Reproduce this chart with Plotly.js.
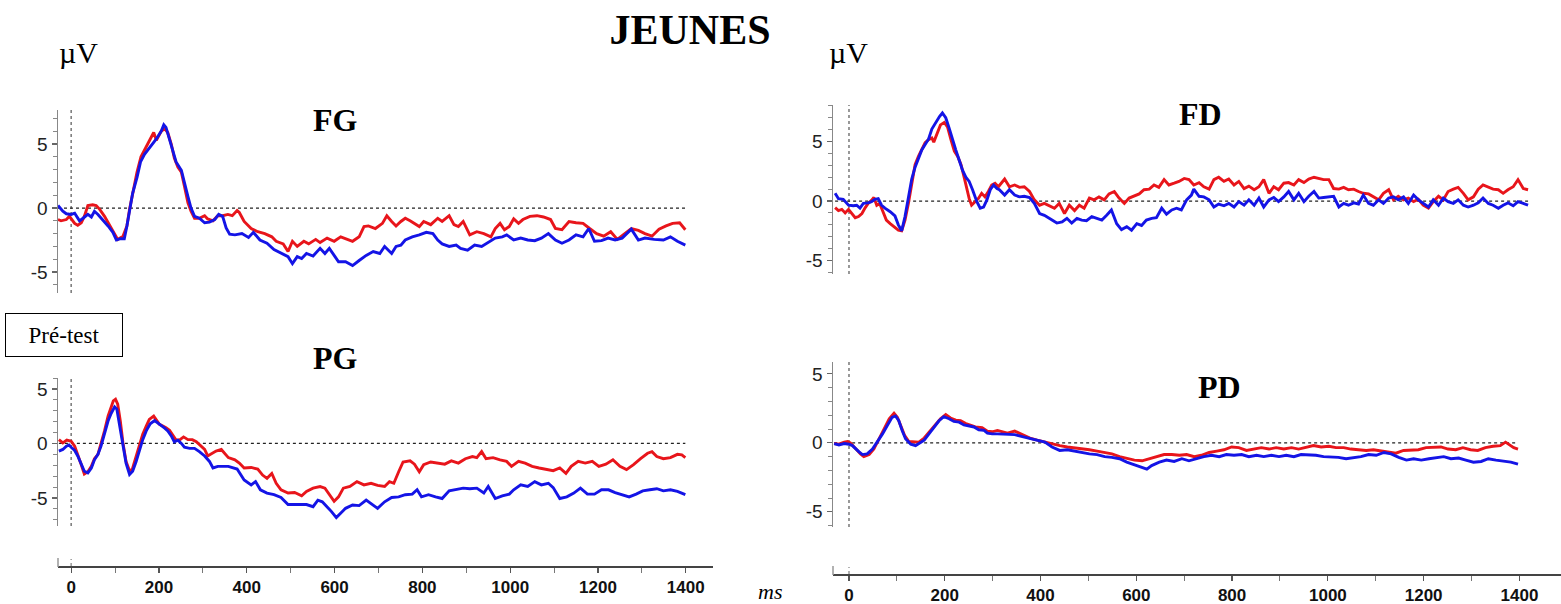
<!DOCTYPE html>
<html><head><meta charset="utf-8">
<script src="https://cdn.plot.ly/plotly-3.0.1.min.js"></script>
<style>html,body{margin:0;padding:0;background:#fff;}#chart{width:1561px;height:604px;}</style>
</head><body><div id="chart"></div>
<script>
// ---------- DATA (ms, µV) ----------
const fgRedT = [-30,-23,-11,-4,8,15,23,30,38,49,57,65,76,87,99,106,118,127,133,142,150,159,171,182,188,194,205,213,220,228,235,243,251,258,266,273,281,292,304,311,323,334,345,357,367,378,383,394,410,425,441,457,467,483,494,504,515,530,541,557,567,583,599,614,630,641,656,667,677,693,709,719,730,740,751,761,772,782,793,803,819,835,845,861,872,882,893,908,924,940,956,966,977,987,998,1008,1019,1029,1045,1061,1076,1092,1103,1118,1134,1150,1166,1181,1197,1213,1229,1244,1260,1276,1292,1307,1323,1339,1355,1370,1386,1399];
const fgRedV = [-0.9,-1.0,-0.9,-0.65,-1.2,-1.35,-1.15,-0.65,0.2,0.25,0.2,-0.1,-0.65,-1.3,-2.05,-2.45,-2.2,-1.4,-0.1,1.4,2.8,4.0,4.8,5.6,5.9,5.3,6.0,6.2,5.9,5.0,3.9,3.2,2.8,1.7,0.4,-0.25,-0.8,-0.8,-0.6,-0.85,-1.0,-0.6,-0.6,-0.5,-0.6,-0.2,-0.35,-1.05,-1.6,-1.85,-2.0,-2.25,-2.6,-2.8,-3.4,-2.6,-3.0,-2.6,-2.8,-2.45,-2.7,-2.35,-2.6,-2.25,-2.45,-2.6,-2.25,-1.45,-1.4,-1.6,-1.2,-0.6,-1.05,-1.4,-1.05,-0.8,-1.0,-1.2,-1.45,-1.05,-1.3,-0.8,-1.05,-0.6,-1.3,-1.45,-1.05,-2.1,-1.85,-2.0,-2.25,-1.6,-1.2,-1.7,-1.45,-0.85,-1.2,-0.9,-0.65,-0.6,-0.7,-0.9,-1.6,-1.7,-1.05,-1.15,-1.2,-1.6,-2.0,-2.2,-1.85,-2.45,-2.0,-1.6,-1.75,-2.0,-2.2,-1.65,-1.4,-1.2,-1.15,-1.7];
const fgBlueT = [-30,-19,-11,0,8,15,19,27,38,46,53,61,72,84,95,103,112,121,127,133,140,150,158,167,178,194,205,211,216,224,232,239,251,258,266,273,281,292,304,315,327,336,345,353,361,373,389,404,415,430,446,462,478,494,504,515,525,536,551,567,578,588,599,609,625,641,656,672,688,703,714,730,740,751,761,777,793,809,824,835,845,861,877,887,903,919,935,950,966,982,992,1008,1024,1040,1056,1071,1087,1103,1118,1134,1150,1166,1179,1192,1208,1223,1239,1255,1276,1292,1307,1328,1349,1365,1381,1399];
const fgBlueV = [0.2,-0.25,-0.45,-0.5,-0.4,-0.8,-1.0,-0.8,-0.5,-0.7,-0.25,-0.5,-0.9,-1.4,-1.9,-2.5,-2.4,-2.4,-1.4,-0.1,1.15,2.4,3.6,4.2,4.7,5.4,6.0,6.5,6.3,5.4,4.5,3.6,2.95,1.9,0.9,0,-0.65,-0.8,-1.15,-1.1,-0.9,-0.5,-0.65,-1.55,-2.05,-2.1,-2.0,-2.3,-1.9,-2.5,-2.75,-3.25,-3.55,-3.8,-4.35,-3.8,-3.95,-3.55,-3.75,-3.15,-3.55,-3.15,-3.7,-4.2,-4.2,-4.5,-4.1,-3.7,-3.4,-3.55,-3.0,-3.55,-3.0,-2.9,-2.5,-2.25,-2.1,-1.9,-2.0,-2.5,-2.8,-3.0,-2.9,-3.15,-3.3,-2.9,-3.0,-2.7,-2.35,-2.25,-2.1,-2.5,-2.35,-2.5,-2.55,-2.35,-2.0,-2.5,-2.75,-2.5,-2.1,-2.25,-1.6,-2.6,-2.55,-2.35,-2.5,-2.35,-1.65,-2.5,-2.35,-2.45,-2.5,-2.25,-2.6,-2.9];

const fdRedT = [-29,-22,-15,-8,-1,6,13,20,27,34,40,47,52,58,64,71,78,86,96,103,110,117,124,131,138,145,152,159,166,173,177,184,191,199,206,213,220,227,234,241,246,251,256,263,270,277,284,291,298,305,312,325,335,346,356,366,377,387,398,408,418,429,439,450,460,471,481,491,502,512,522,533,543,554,564,575,585,595,606,616,627,637,647,658,668,679,689,700,710,720,731,741,752,762,772,783,793,804,814,825,835,846,856,866,877,887,897,908,918,929,939,950,960,971,981,991,1002,1012,1023,1033,1043,1054,1064,1074,1085,1095,1106,1116,1127,1137,1147,1158,1168,1179,1189,1199,1210,1220,1231,1241,1251,1262,1272,1283,1293,1304,1314,1324,1335,1345,1356,1366,1376,1387,1397,1408,1418];
const fdRedV = [-0.55,-0.8,-0.7,-1.0,-0.7,-1.1,-1.4,-1.3,-1.05,-0.55,-0.2,0.05,0.3,-0.35,-0.2,-0.9,-1.6,-1.9,-2.25,-2.45,-2.5,-1.6,-0.2,1.5,3.05,3.75,4.3,4.9,5.15,5.3,4.95,5.7,6.4,6.6,6.2,5.15,4.2,3.75,3.05,1.9,0.95,0.2,-0.35,-0.05,0.2,0.65,0.35,0.8,1.35,1.5,1.2,1.85,1.2,1.35,1.15,1.2,0.8,0.1,-0.35,-0.2,-0.4,-0.6,-0.2,-1.05,-0.35,-0.8,-0.35,-0.6,0.25,0.1,0.35,0.1,0.6,0.8,0.25,-0.2,0.25,0.4,0.6,0.95,1.0,1.35,1.15,1.8,1.35,1.5,1.65,1.9,1.8,1.35,1.55,1.2,1.0,1.8,2.0,1.65,1.85,1.35,1.65,1.05,1.25,0.95,1.2,1.8,0.65,1.2,0.95,1.5,1.55,1.35,1.8,1.55,1.85,2.0,1.9,1.8,1.8,1.05,1.0,1.15,0.95,1.0,0.8,0.65,0.6,0.35,0.1,0.65,0.95,0.1,0.4,0.1,0.25,-0.05,0.15,-0.35,-0.6,-0.05,0.4,0.1,0.8,1.0,1.15,0.65,0.1,0.35,1.0,1.35,1.2,1.0,0.95,0.65,0.95,1.2,1.8,1.05,0.95];
const fdBlueT = [-29,-22,-12,-1,9,16,23,30,40,47,54,61,68,75,86,96,103,110,117,124,131,138,145,152,159,166,173,180,189,195,202,209,216,223,230,237,244,251,258,267,274,281,288,295,302,309,314,325,335,346,356,366,377,387,398,408,424,434,445,455,465,476,486,496,507,517,528,538,548,559,569,580,590,601,611,621,632,642,653,663,674,684,694,705,715,720,731,741,752,762,772,783,793,804,814,825,835,846,856,866,877,887,897,908,918,929,939,950,960,971,981,991,1002,1012,1023,1033,1043,1054,1064,1074,1085,1095,1106,1116,1127,1137,1147,1158,1168,1179,1189,1199,1210,1220,1231,1241,1251,1262,1272,1283,1293,1304,1314,1324,1335,1345,1356,1366,1376,1387,1397,1408,1418];
const fdBlueV = [0.65,0.2,0.15,-0.35,-0.4,-0.35,-0.6,-0.2,-0.15,-0.05,0.15,0.2,-0.35,-0.6,-0.9,-1.25,-2.0,-2.5,-1.3,0.35,1.85,2.85,3.6,4.3,4.75,5.2,6.05,6.55,7.1,7.4,7.0,6.15,5.15,4.3,3.45,2.6,2.0,1.65,0.95,-0.05,-0.6,-0.5,0.1,0.95,1.35,1.05,0.95,0.5,0.95,0.5,0.35,0.4,0.3,-0.2,-1.05,-1.2,-1.6,-1.85,-1.75,-1.45,-1.85,-1.45,-1.6,-1.65,-1.3,-1.45,-1.6,-1.2,-0.75,-1.9,-2.4,-2.15,-2.45,-1.9,-2.05,-1.6,-1.45,-1.4,-0.6,-1.1,-0.75,-0.6,-0.75,0.1,0.5,1.0,0.4,0.35,0.1,-0.5,-0.25,-0.4,-0.2,-0.5,-0.05,-0.35,0.1,-0.35,0.25,-0.5,0.1,0.3,-0.05,0.35,0.8,0.1,0.65,-0.05,0.4,0.8,0.25,0.3,0.35,0.4,-0.5,-0.2,-0.35,-0.15,-0.25,0.5,-0.2,-0.35,0.1,-0.2,0.25,0.35,0.1,0.35,-0.2,0.5,0.1,-0.2,-0.5,0.1,-0.35,0.25,-0.05,-0.2,0.1,-0.35,-0.5,-0.35,-0.15,0.25,-0.2,-0.35,-0.6,-0.35,-0.15,-0.4,-0.05,-0.2,-0.35];

const pgRedT = [-28,-19,-10,0,8,15,23,30,38,46,53,61,68,76,84,91,96,101,106,112,118,125,133,139,147,156,163,171,178,188,194,201,209,216,224,232,239,248,256,266,276,285,296,304,311,319,330,342,349,358,373,383,394,410,425,436,446,457,467,478,494,509,525,536,551,567,578,588,599,609,620,635,651,667,683,698,714,725,735,746,756,772,782,793,803,819,835,851,866,882,898,914,924,935,945,961,977,992,1003,1019,1034,1050,1066,1082,1098,1113,1127,1139,1155,1171,1187,1202,1218,1234,1250,1265,1281,1297,1313,1323,1334,1349,1365,1381,1391,1399];
const pgRedV = [0.35,0.05,0.3,0.2,-0.25,-1.0,-1.95,-2.8,-2.6,-2.1,-1.4,-1.0,-0.1,1.15,2.5,3.3,3.9,4.05,3.6,2.05,0.05,-1.65,-2.5,-2.4,-1.3,-0.1,0.85,1.6,2.2,2.5,2.1,1.75,1.6,1.45,1.2,0.75,0.3,0.35,0.6,0.35,0.35,0.15,-0.25,-0.55,-1.15,-0.95,-0.7,-0.55,-0.85,-1.3,-1.5,-1.8,-2.25,-2.2,-2.35,-2.9,-3.2,-2.75,-3.65,-4.25,-4.55,-4.5,-4.8,-4.4,-4.1,-3.95,-4.1,-4.7,-5.3,-4.9,-4.1,-3.95,-3.5,-3.8,-3.65,-3.85,-3.95,-3.5,-3.65,-2.6,-1.7,-1.6,-1.9,-2.6,-1.95,-1.7,-1.8,-1.9,-1.6,-1.8,-1.4,-1.2,-1.3,-0.75,-1.4,-1.3,-1.5,-1.65,-2.1,-1.65,-1.8,-2.1,-2.25,-2.4,-2.5,-2.25,-2.75,-2.1,-1.65,-1.8,-1.65,-2.1,-1.9,-1.5,-2.1,-2.4,-1.95,-1.4,-0.9,-0.75,-1.2,-1.4,-1.3,-1.0,-1.05,-1.3];
const pgBlueT = [-28,-19,-11,-5,0,8,15,23,30,38,46,53,61,68,76,84,91,99,104,110,118,125,133,140,148,156,163,171,180,190,197,205,213,220,228,235,243,251,258,270,281,292,304,315,323,334,345,358,378,394,410,420,431,446,462,478,494,504,520,536,551,562,572,583,593,604,614,625,641,656,672,683,698,714,730,746,761,777,788,798,814,830,845,861,877,893,908,924,940,950,966,982,998,1008,1024,1040,1056,1071,1087,1098,1113,1129,1145,1160,1176,1192,1208,1224,1239,1255,1271,1287,1302,1318,1334,1349,1365,1381,1399];
const pgBlueV = [-0.7,-0.55,-0.25,-0.15,-0.35,-0.65,-1.15,-1.95,-2.55,-2.7,-2.25,-1.5,-1.0,-0.25,0.85,2.05,2.75,3.35,3.15,1.75,-0.25,-1.8,-2.85,-2.55,-1.65,-0.55,0.35,1.15,1.8,2.1,1.9,1.7,1.4,1.15,0.7,0.15,0.3,0,-0.35,-0.45,-0.45,-0.75,-1.15,-1.65,-2.25,-2.1,-2.1,-2.1,-2.35,-3.35,-3.8,-3.5,-4.25,-4.55,-4.7,-4.95,-5.6,-5.6,-5.65,-5.6,-5.8,-5.2,-5.35,-5.8,-6.25,-6.8,-6.4,-5.95,-5.65,-5.7,-5.2,-5.5,-5.95,-5.35,-4.95,-4.9,-4.7,-4.65,-4.25,-4.9,-4.7,-4.9,-5.05,-4.35,-4.25,-4.1,-4.15,-4.1,-4.55,-3.95,-5.05,-4.8,-4.65,-4.25,-3.8,-3.95,-3.5,-3.8,-3.65,-4.05,-5.05,-4.9,-4.55,-4.1,-4.65,-4.65,-4.25,-4.25,-4.5,-4.7,-4.9,-4.65,-4.35,-4.25,-4.15,-4.35,-4.25,-4.4,-4.7];

const pdRedT = [-31,-21,-10,-3,3,14,24,31,42,52,63,73,84,94,101,108,116,125,136,146,157,167,177,191,202,212,223,233,244,254,264,278,289,299,310,331,346,362,378,393,409,424,440,456,471,487,502,518,534,549,565,580,596,612,627,643,658,674,690,705,721,736,752,768,783,799,814,830,846,861,877,892,908,924,939,955,970,986,1002,1017,1033,1048,1064,1080,1095,1111,1126,1142,1158,1173,1189,1205,1220,1236,1251,1267,1282,1298,1313,1329,1345,1360,1371,1381,1388,1397];
const pdRedV = [-0.05,-0.1,0.05,0.1,0,-0.45,-0.8,-1.0,-0.85,-0.45,0.3,1.0,1.75,2.15,1.85,1.25,0.55,0.1,0.05,0.05,0.35,0.75,1.2,1.75,2.05,1.8,1.65,1.6,1.4,1.25,1.15,1.1,0.85,0.8,0.9,0.7,0.85,0.6,0.35,0.2,0.05,-0.1,-0.2,-0.3,-0.35,-0.45,-0.5,-0.6,-0.7,-0.8,-1.0,-1.1,-1.25,-1.3,-1.15,-1.0,-0.85,-0.85,-0.9,-0.85,-1.0,-0.9,-0.7,-0.6,-0.5,-0.3,-0.35,-0.55,-0.45,-0.35,-0.45,-0.35,-0.45,-0.35,-0.45,-0.3,-0.2,-0.3,-0.25,-0.35,-0.35,-0.45,-0.5,-0.55,-0.5,-0.6,-0.7,-0.75,-0.55,-0.5,-0.5,-0.35,-0.35,-0.3,-0.45,-0.5,-0.35,-0.5,-0.55,-0.35,-0.25,-0.2,0.05,-0.2,-0.35,-0.45];
const pdBlueT = [-31,-21,-10,0,7,14,21,28,38,49,59,70,80,90,97,104,111,118,129,139,146,157,167,177,188,198,209,219,230,240,251,261,271,282,289,299,310,331,346,362,378,393,409,424,440,456,471,487,502,518,534,549,565,580,596,612,622,632,648,663,679,695,710,726,741,757,773,788,804,820,835,851,866,882,898,913,929,944,960,975,991,1007,1022,1038,1053,1069,1085,1101,1117,1132,1148,1164,1179,1195,1211,1226,1242,1257,1273,1288,1304,1320,1335,1351,1367,1382,1397];
const pdBlueV = [-0.05,-0.15,-0.05,-0.1,-0.2,-0.45,-0.65,-0.85,-0.8,-0.45,0.05,0.65,1.25,1.85,1.95,1.6,0.9,0.3,-0.1,-0.2,-0.05,0.2,0.65,1.1,1.6,1.9,1.75,1.55,1.5,1.3,1.2,1.15,0.95,0.9,0.7,0.65,0.65,0.65,0.6,0.45,0.3,0.15,0.05,-0.3,-0.55,-0.5,-0.6,-0.7,-0.8,-0.85,-1.0,-1.05,-1.15,-1.4,-1.6,-1.75,-1.9,-1.65,-1.4,-1.25,-1.35,-1.15,-1.3,-1.15,-1.0,-0.9,-1.0,-0.85,-0.9,-0.85,-1.0,-0.9,-1.0,-0.9,-1.0,-0.9,-1.0,-0.85,-0.85,-0.9,-1.0,-1.0,-1.05,-1.15,-1.1,-1.0,-0.85,-0.9,-0.7,-0.8,-1.05,-1.25,-1.15,-1.25,-1.15,-1.1,-1.0,-1.15,-1.1,-1.25,-1.4,-1.35,-1.15,-1.25,-1.3,-1.4,-1.55];

const panelNames = ['FG','FD','PG','PD'];
const yTickVals = [-5, 0, 5];
const yTickText = ['-5', '0', '5'];
const yMinorVals = [-7,-6,-4,-3,-2,-1,1,2,3,4,6,7,8];
const xTickVals = [0, 200, 400, 600, 800, 1000, 1200, 1400];
const xTickText = ['0', '200', '400', '600', '800', '1000', '1200', '1400'];
const xMinorVals = [100, 300, 500, 700, 900, 1100, 1300];
const mainTitle = 'JEUNES';
const unitLabel = 'µV';
const timeLabel = 'ms';
const conditionLabel = 'Pré-test';

// ---------- LAYOUT HELPERS ----------
const W = 1561, H = 604;
const fx = p => p / W;
const fy = p => 1 - p / H;
const RED = '#e8151b', BLUE = '#1414e6';
const SERIF = 'Liberation Serif, Times New Roman, serif';
const NARROW = 'Liberation Sans Narrow, Arial Narrow, Liberation Sans, Arial, sans-serif';

const panels = [
  {x:'x',  y:'y',  rT:fgRedT, rV:fgRedV, bT:fgBlueT, bV:fgBlueV},
  {x:'x2', y:'y2', rT:fdRedT, rV:fdRedV, bT:fdBlueT, bV:fdBlueV},
  {x:'x3', y:'y3', rT:pgRedT, rV:pgRedV, bT:pgBlueT, bV:pgBlueV},
  {x:'x4', y:'y4', rT:pdRedT, rV:pdRedV, bT:pdBlueT, bV:pdBlueV}
];

const traces = [];
panels.forEach(p => {
  traces.push({x:p.rT, y:p.rV, xaxis:p.x, yaxis:p.y, type:'scatter', mode:'lines',
    line:{color:RED, width:2.9}, hoverinfo:'skip', showlegend:false});
  traces.push({x:p.bT, y:p.bV, xaxis:p.x, yaxis:p.y, type:'scatter', mode:'lines',
    line:{color:BLUE, width:2.9}, hoverinfo:'skip', showlegend:false});
});

function yAx(domain, range, anchor) {
  return {domain, range, anchor, showgrid:false, zeroline:false,
    showline:true, linecolor:'#888', linewidth:1.5,
    ticks:'outside', ticklen:5, tickwidth:1.2, tickcolor:'#666',
    tickmode:'array', tickvals:yTickVals, ticktext:yTickText,
    minor:{ticks:'outside', ticklen:4, tickwidth:1, tickcolor:'#888', tickmode:'array', tickvals:yMinorVals, showgrid:false},
    tickfont:{family:NARROW, size:19, color:'#222'}, fixedrange:true};
}
const hiddenX = (domain, range) => ({domain, range, visible:false, fixedrange:true});
const bottomX = (domain, range, pos) => ({domain, range, anchor:'free', position:pos,
  showgrid:false, zeroline:false, showline:true, linecolor:'#444', linewidth:2,
  ticks:'outside', ticklen:5, tickwidth:1.2, tickcolor:'#555',
  tickmode:'array', tickvals:xTickVals, ticktext:xTickText,
  minor:{ticks:'outside', ticklen:5, tickwidth:1, tickcolor:'#777', tickmode:'array', tickvals:xMinorVals, showgrid:false},
  tickfont:{family:NARROW, size:17, color:'#111', weight:'bold'}, fixedrange:true});

const xL = [-30, 1462], xR = [-33.4, 1486.8];
const dL = [fx(58), fx(713)], dR = [fx(833), 1];

const layout = {
  width: W, height: H, margin:{l:0,r:0,t:0,b:0}, paper_bgcolor:'#fff', plot_bgcolor:'rgba(0,0,0,0)',
  showlegend:false,
  title:{text:mainTitle, x:fx(690), y:fy(29), xanchor:'center', yanchor:'middle',
    font:{family:SERIF, size:42, color:'#000', weight:'bold'}},
  xaxis: hiddenX(dL, xL),
  xaxis2: hiddenX(dR, xR),
  xaxis3: bottomX(dL, xL, fy(567)),
  xaxis4: bottomX(dR, xR, fy(575)),
  yaxis: yAx([fy(293), fy(110)], [-6.64, 7.66], 'x'),
  yaxis2: yAx([fy(274), fy(105)], [-6.13, 8.07], 'x2'),
  yaxis3: yAx([fy(526), fy(378)], [-7.57, 6.0], 'x3'),
  yaxis4: yAx([fy(527), fy(362)], [-6.1, 5.86], 'x4'),
  shapes: [],
  annotations: []
};

// zero reference lines per panel
panels.forEach(p => {
  const allT = p.rT.concat(p.bT);
  layout.shapes.push({type:'line', xref:p.x, yref:p.y, x0:Math.min(...allT), x1:Math.max(...allT), y0:0, y1:0,
    line:{color:'#222', width:1.2, dash:'dot'}, layer:'below'});
  layout.shapes.push({type:'line', xref:p.x, yref:p.y + ' domain', x0:0, x1:0, y0:0, y1:1,
    line:{color:'#777', width:1.5, dash:'dot'}, layer:'below'});
});
// small stubs above the bottom time axes
layout.shapes.push({type:'line', xref:'paper', yref:'paper', x0:fx(58), x1:fx(58), y0:fy(567), y1:fy(558), line:{color:'#999', width:1.5}});
layout.shapes.push({type:'line', xref:'x3', yref:'paper', x0:0, x1:0, y0:fy(566), y1:fy(559), line:{color:'#999', width:1.5, dash:'dot'}});
layout.shapes.push({type:'line', xref:'paper', yref:'paper', x0:fx(833), x1:fx(833), y0:fy(575), y1:fy(566), line:{color:'#999', width:1.5}});
layout.shapes.push({type:'line', xref:'x4', yref:'paper', x0:0, x1:0, y0:fy(574), y1:fy(567), line:{color:'#999', width:1.5, dash:'dot'}});

const ann = (text, x, y, size, opts) => Object.assign({text, xref:'paper', yref:'paper', x:fx(x), y:fy(y),
  xanchor:'center', yanchor:'middle', showarrow:false, font:{family:SERIF, size, color:'#000'}}, opts || {});
const boldFont = s => ({family:SERIF, size:s, color:'#000', weight:'bold'});
layout.annotations.push(ann(panelNames[0], 335, 120, 32, {font:boldFont(32)}));
layout.annotations.push(ann(panelNames[1], 1200, 114, 32, {font:boldFont(32)}));
layout.annotations.push(ann(panelNames[2], 335, 358, 32, {font:boldFont(32)}));
layout.annotations.push(ann(panelNames[3], 1219, 387, 32, {font:boldFont(32)}));
layout.annotations.push(ann(unitLabel, 78, 52, 30));
layout.annotations.push(ann(unitLabel, 848, 52, 30));
layout.annotations.push(ann('<i>' + timeLabel + '</i>', 770, 591, 22));
layout.annotations.push(ann(conditionLabel, 64, 335, 23, {width:116, height:42, bordercolor:'#000', borderwidth:1, borderpad:0, bgcolor:'#fff'}));

Plotly.newPlot('chart', traces, layout, {staticPlot:true, displayModeBar:false});
</script></body></html>
